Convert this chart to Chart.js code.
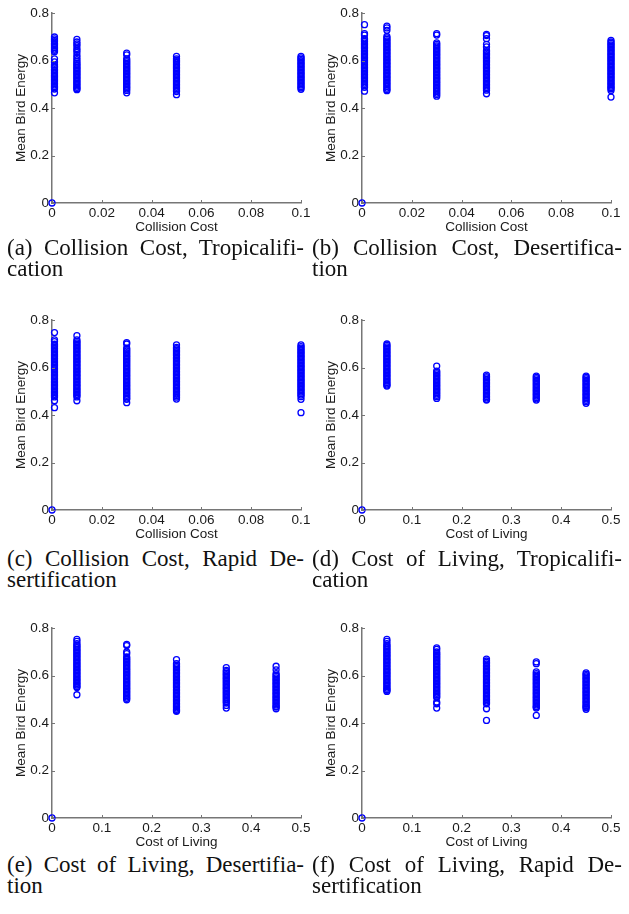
<!DOCTYPE html>
<html lang="en">
  <head>
    <meta charset="UTF-8">
    <script src="https://cdn.jsdelivr.net/npm/chart.js"></script>
    <style>
      body {
      margin: 0;
      width: 629px;
      height: 914px;
      background: #fff;
      position: relative;
      overflow: hidden;
      }
      .panel {
      position: absolute;
      width: 319px;
      height: 237px;
      }
      .caption {
      position: absolute;
      font-family: "Liberation Serif", "Times New Roman", serif;
      font-size: 23px;
      line-height: 21px;
      color: #111;
      white-space: nowrap;
      }
      .caption .first {
      text-align: justify;
      text-align-last: justify;
      }
    </style>
  </head>
  <body>
    <div class="panel" style="left:0px;top:0px"><canvas id="chartA"></canvas></div>
    <div class="panel" style="left:310px;top:0px"><canvas id="chartB"></canvas></div>
    <div class="panel" style="left:0px;top:307px"><canvas id="chartC"></canvas></div>
    <div class="panel" style="left:310px;top:307px"><canvas id="chartD"></canvas></div>
    <div class="panel" style="left:0px;top:615px"><canvas id="chartE"></canvas></div>
    <div class="panel" style="left:310px;top:615px"><canvas id="chartF"></canvas></div>

    <div class="caption" style="left:7px;top:237px;width:297px">
      <div class="first">(a) Collision Cost, Tropicalifi-</div><div>cation</div>
    </div>
    <div class="caption" style="left:312px;top:237px;width:310px">
      <div class="first">(b) Collision Cost, Desertifica-</div><div>tion</div>
    </div>
    <div class="caption" style="left:7px;top:548px;width:297px">
      <div class="first">(c) Collision Cost, Rapid De-</div><div>sertification</div>
    </div>
    <div class="caption" style="left:312px;top:548px;width:310px">
      <div class="first">(d) Cost of Living, Tropicalifi-</div><div>cation</div>
    </div>
    <div class="caption" style="left:7px;top:854px;width:297px">
      <div class="first">(e) Cost of Living, Desertifia-</div><div>tion</div>
    </div>
    <div class="caption" style="left:312px;top:854px;width:310px">
      <div class="first">(f) Cost of Living, Rapid De-</div><div>sertification</div>
    </div>

    <script>
      // x positions of the runs
      const collisionCosts = [0.001, 0.01, 0.03, 0.05, 0.1];
      const livingCosts = [0.05, 0.15, 0.25, 0.35, 0.45];
      const collisionTicks = [0, 0.02, 0.04, 0.06, 0.08, 0.1];
      const livingTicks = [0, 0.1, 0.2, 0.3, 0.4, 0.5];
      const energyTicks = [0, 0.2, 0.4, 0.6, 0.8];
      const originPoint = [0, 0]; // every panel has one run at (0,0)

      // mean bird energy, one list per x position
      const collisionTropical = [
        [0.699, 0.691, 0.685, 0.679, 0.672, 0.667, 0.661, 0.654, 0.648, 0.643, 0.637, 0.607, 0.594, 0.581, 0.575, 0.569, 0.562, 0.557, 0.551, 0.544, 0.538, 0.533, 0.527, 0.521, 0.515, 0.509, 0.503, 0.497, 0.491, 0.486, 0.480, 0.464],
        [0.689, 0.678, 0.670, 0.662, 0.651, 0.643, 0.634, 0.622, 0.613, 0.604, 0.596, 0.589, 0.583, 0.577, 0.571, 0.565, 0.559, 0.553, 0.547, 0.541, 0.535, 0.529, 0.523, 0.517, 0.511, 0.505, 0.499, 0.493, 0.487, 0.481, 0.477],
        [0.631, 0.624, 0.607, 0.600, 0.594, 0.588, 0.582, 0.576, 0.570, 0.564, 0.558, 0.552, 0.546, 0.540, 0.534, 0.528, 0.522, 0.516, 0.510, 0.504, 0.498, 0.492, 0.486, 0.480, 0.474, 0.464],
        [0.617, 0.607, 0.601, 0.595, 0.589, 0.583, 0.577, 0.571, 0.565, 0.559, 0.553, 0.547, 0.541, 0.535, 0.529, 0.523, 0.517, 0.511, 0.505, 0.499, 0.493, 0.487, 0.481, 0.475, 0.469, 0.456],
        [0.617, 0.611, 0.605, 0.599, 0.593, 0.587, 0.581, 0.575, 0.569, 0.563, 0.557, 0.551, 0.545, 0.539, 0.533, 0.527, 0.521, 0.515, 0.509, 0.503, 0.497, 0.491, 0.485, 0.479]
      ];
      const collisionDesert = [
        [0.751, 0.713, 0.707, 0.692, 0.686, 0.680, 0.673, 0.667, 0.661, 0.655, 0.649, 0.643, 0.637, 0.631, 0.625, 0.619, 0.613, 0.607, 0.601, 0.595, 0.589, 0.583, 0.577, 0.571, 0.565, 0.559, 0.553, 0.547, 0.541, 0.535, 0.529, 0.523, 0.517, 0.511, 0.505, 0.499, 0.493, 0.487, 0.471],
        [0.745, 0.737, 0.727, 0.701, 0.695, 0.689, 0.683, 0.677, 0.671, 0.665, 0.659, 0.653, 0.647, 0.641, 0.635, 0.629, 0.623, 0.617, 0.611, 0.605, 0.599, 0.593, 0.587, 0.581, 0.575, 0.569, 0.563, 0.557, 0.551, 0.545, 0.539, 0.533, 0.527, 0.521, 0.515, 0.509, 0.503, 0.497, 0.491, 0.484, 0.478, 0.473],
        [0.713, 0.707, 0.674, 0.668, 0.662, 0.656, 0.650, 0.644, 0.638, 0.632, 0.626, 0.620, 0.614, 0.608, 0.602, 0.596, 0.590, 0.584, 0.578, 0.572, 0.566, 0.560, 0.554, 0.548, 0.542, 0.536, 0.530, 0.524, 0.518, 0.512, 0.506, 0.500, 0.494, 0.488, 0.482, 0.476, 0.470, 0.463, 0.457, 0.450],
        [0.710, 0.705, 0.692, 0.668, 0.657, 0.643, 0.637, 0.631, 0.625, 0.619, 0.613, 0.607, 0.601, 0.595, 0.589, 0.583, 0.577, 0.571, 0.565, 0.559, 0.553, 0.547, 0.541, 0.535, 0.529, 0.523, 0.517, 0.511, 0.505, 0.499, 0.493, 0.487, 0.481, 0.475, 0.460],
        [0.685, 0.678, 0.672, 0.666, 0.660, 0.654, 0.648, 0.642, 0.636, 0.630, 0.624, 0.618, 0.612, 0.606, 0.600, 0.594, 0.588, 0.582, 0.576, 0.570, 0.564, 0.558, 0.552, 0.546, 0.540, 0.534, 0.528, 0.522, 0.516, 0.510, 0.504, 0.498, 0.492, 0.486, 0.481, 0.474, 0.446]
      ];
      const collisionRapid = [
        [0.747, 0.716, 0.709, 0.698, 0.692, 0.686, 0.680, 0.674, 0.668, 0.662, 0.656, 0.650, 0.644, 0.638, 0.632, 0.626, 0.620, 0.614, 0.608, 0.602, 0.596, 0.590, 0.584, 0.578, 0.572, 0.566, 0.560, 0.554, 0.548, 0.542, 0.536, 0.530, 0.524, 0.518, 0.512, 0.506, 0.500, 0.494, 0.488, 0.482, 0.476, 0.460, 0.431],
        [0.734, 0.716, 0.710, 0.704, 0.698, 0.692, 0.686, 0.680, 0.674, 0.668, 0.662, 0.656, 0.650, 0.644, 0.638, 0.632, 0.626, 0.620, 0.614, 0.608, 0.602, 0.596, 0.590, 0.584, 0.578, 0.572, 0.566, 0.560, 0.554, 0.548, 0.542, 0.536, 0.530, 0.524, 0.518, 0.512, 0.506, 0.500, 0.494, 0.488, 0.482, 0.476, 0.460],
        [0.705, 0.699, 0.681, 0.675, 0.669, 0.663, 0.657, 0.651, 0.645, 0.639, 0.633, 0.627, 0.621, 0.615, 0.609, 0.603, 0.597, 0.591, 0.585, 0.579, 0.573, 0.567, 0.561, 0.555, 0.549, 0.543, 0.537, 0.531, 0.525, 0.519, 0.513, 0.507, 0.501, 0.495, 0.489, 0.483, 0.477, 0.471, 0.466, 0.452],
        [0.695, 0.685, 0.679, 0.673, 0.667, 0.661, 0.655, 0.649, 0.643, 0.637, 0.631, 0.625, 0.619, 0.613, 0.607, 0.601, 0.595, 0.589, 0.583, 0.577, 0.571, 0.565, 0.559, 0.553, 0.547, 0.541, 0.535, 0.529, 0.523, 0.517, 0.511, 0.505, 0.499, 0.493, 0.487, 0.481, 0.475, 0.467],
        [0.695, 0.688, 0.682, 0.676, 0.670, 0.664, 0.658, 0.652, 0.646, 0.640, 0.634, 0.628, 0.622, 0.616, 0.610, 0.604, 0.598, 0.592, 0.586, 0.580, 0.574, 0.568, 0.562, 0.556, 0.550, 0.544, 0.538, 0.532, 0.526, 0.520, 0.514, 0.508, 0.502, 0.496, 0.490, 0.484, 0.477, 0.466, 0.410]
      ];
      const livingTropical = [
        [0.699, 0.693, 0.687, 0.681, 0.675, 0.669, 0.663, 0.657, 0.651, 0.645, 0.639, 0.633, 0.627, 0.621, 0.615, 0.609, 0.603, 0.597, 0.591, 0.585, 0.579, 0.573, 0.567, 0.561, 0.555, 0.549, 0.543, 0.537, 0.531, 0.526, 0.522],
        [0.606, 0.585, 0.579, 0.573, 0.567, 0.561, 0.555, 0.549, 0.543, 0.537, 0.531, 0.525, 0.519, 0.513, 0.507, 0.501, 0.495, 0.489, 0.483, 0.477, 0.470],
        [0.568, 0.562, 0.556, 0.550, 0.544, 0.538, 0.532, 0.526, 0.520, 0.514, 0.508, 0.502, 0.496, 0.490, 0.484, 0.478, 0.472, 0.466, 0.463],
        [0.564, 0.558, 0.552, 0.546, 0.540, 0.534, 0.528, 0.522, 0.516, 0.510, 0.504, 0.498, 0.492, 0.486, 0.480, 0.474, 0.468, 0.463],
        [0.564, 0.558, 0.552, 0.546, 0.540, 0.534, 0.528, 0.522, 0.516, 0.510, 0.504, 0.498, 0.492, 0.486, 0.480, 0.474, 0.468, 0.462, 0.456, 0.449]
      ];
      const livingDesert = [
        [0.752, 0.744, 0.734, 0.728, 0.722, 0.716, 0.710, 0.704, 0.698, 0.692, 0.686, 0.680, 0.674, 0.668, 0.662, 0.656, 0.650, 0.644, 0.638, 0.632, 0.626, 0.620, 0.614, 0.608, 0.602, 0.596, 0.590, 0.584, 0.578, 0.572, 0.566, 0.560, 0.554, 0.549, 0.519],
        [0.731, 0.726, 0.699, 0.692, 0.678, 0.672, 0.666, 0.660, 0.654, 0.648, 0.642, 0.636, 0.630, 0.624, 0.618, 0.612, 0.606, 0.600, 0.594, 0.588, 0.582, 0.576, 0.570, 0.564, 0.558, 0.552, 0.546, 0.540, 0.534, 0.528, 0.522, 0.516, 0.510, 0.504, 0.498],
        [0.667, 0.650, 0.644, 0.638, 0.632, 0.626, 0.620, 0.614, 0.608, 0.602, 0.596, 0.590, 0.584, 0.578, 0.572, 0.566, 0.560, 0.554, 0.548, 0.542, 0.536, 0.530, 0.524, 0.518, 0.512, 0.506, 0.500, 0.494, 0.488, 0.482, 0.476, 0.470, 0.464, 0.458, 0.453, 0.449],
        [0.633, 0.622, 0.616, 0.610, 0.604, 0.598, 0.592, 0.586, 0.580, 0.574, 0.568, 0.562, 0.556, 0.550, 0.544, 0.538, 0.532, 0.526, 0.520, 0.514, 0.508, 0.502, 0.496, 0.490, 0.484, 0.474, 0.463],
        [0.639, 0.624, 0.608, 0.602, 0.596, 0.590, 0.584, 0.578, 0.572, 0.566, 0.560, 0.554, 0.548, 0.542, 0.536, 0.530, 0.524, 0.518, 0.512, 0.506, 0.500, 0.494, 0.488, 0.482, 0.476, 0.470, 0.467, 0.460]
      ];
      const livingRapid = [
        [0.752, 0.744, 0.734, 0.727, 0.721, 0.715, 0.709, 0.703, 0.697, 0.691, 0.685, 0.679, 0.673, 0.667, 0.661, 0.655, 0.649, 0.643, 0.637, 0.631, 0.625, 0.619, 0.613, 0.607, 0.601, 0.595, 0.589, 0.583, 0.577, 0.571, 0.565, 0.559, 0.553, 0.547, 0.541, 0.538, 0.533],
        [0.716, 0.710, 0.699, 0.693, 0.687, 0.681, 0.675, 0.669, 0.663, 0.657, 0.651, 0.645, 0.639, 0.633, 0.627, 0.621, 0.615, 0.609, 0.603, 0.597, 0.591, 0.585, 0.579, 0.573, 0.567, 0.561, 0.555, 0.549, 0.543, 0.537, 0.531, 0.525, 0.519, 0.513, 0.507, 0.488, 0.481, 0.463],
        [0.669, 0.661, 0.655, 0.649, 0.643, 0.637, 0.631, 0.625, 0.619, 0.613, 0.607, 0.601, 0.595, 0.589, 0.583, 0.577, 0.571, 0.565, 0.559, 0.553, 0.547, 0.541, 0.535, 0.529, 0.523, 0.517, 0.511, 0.505, 0.499, 0.493, 0.487, 0.481, 0.460, 0.411],
        [0.657, 0.650, 0.615, 0.608, 0.602, 0.596, 0.590, 0.584, 0.578, 0.572, 0.566, 0.560, 0.554, 0.548, 0.542, 0.536, 0.530, 0.524, 0.518, 0.512, 0.506, 0.500, 0.494, 0.488, 0.482, 0.476, 0.470, 0.467, 0.463, 0.432],
        [0.611, 0.605, 0.599, 0.593, 0.587, 0.581, 0.575, 0.569, 0.563, 0.557, 0.551, 0.545, 0.539, 0.533, 0.527, 0.521, 0.515, 0.509, 0.503, 0.497, 0.491, 0.485, 0.479, 0.473, 0.468, 0.465, 0.458]
      ];

      const axisColor = '#767676';
      const textColor = '#1a1a1a';
      const sans = '"Liberation Sans", Arial, sans-serif';

      // MATLAB-style ticks pointing into the plot
      const inwardTicks = {
        id: 'inwardTicks',
        afterDraw(chart) {
          const { ctx, chartArea: area, scales: { x, y } } = chart;
          ctx.save();
          ctx.strokeStyle = axisColor;
          ctx.lineWidth = 1;
          ctx.beginPath();
          x.ticks.forEach(t => {
            const px = Math.round(x.getPixelForValue(t.value)) + 0.5;
            ctx.moveTo(px, area.bottom);
            ctx.lineTo(px, area.bottom - 3);
          });
          y.ticks.forEach(t => {
            const py = Math.round(y.getPixelForValue(t.value)) + 0.5;
            ctx.moveTo(area.left, py);
            ctx.lineTo(area.left + 3, py);
          });
          ctx.stroke();
          ctx.restore();
        }
      };

      function toPoints(xs, columns) {
        const pts = [{ x: originPoint[0], y: originPoint[1] }];
        columns.forEach((col, i) => col.forEach(v => pts.push({ x: xs[i], y: v })));
        return pts;
      }

      function makePanel(id, xs, columns, xTicks, xTitle) {
        new Chart(document.getElementById(id), {
          type: 'scatter',
          data: {
            datasets: [{
              data: toPoints(xs, columns),
              borderColor: '#0000ff',
              backgroundColor: 'rgba(0,0,0,0)',
              pointRadius: 3,
              pointHoverRadius: 3,
              pointBorderWidth: 1.3,
              clip: false
            }]
          },
          options: {
            responsive: true,
            maintainAspectRatio: false,
            animation: false,
            events: [],
            layout: { padding: { top: 13, right: 18, bottom: 0, left: 0 } },
            plugins: { legend: { display: false }, tooltip: { enabled: false } },
            scales: {
              x: {
                type: 'linear',
                min: xTicks[0],
                max: xTicks[xTicks.length - 1],
                afterBuildTicks: s => { s.ticks = xTicks.map(v => ({ value: v })); },
                afterFit: s => { s.height = 34; },
                grid: { display: false, drawTicks: false },
                border: { display: true, color: axisColor, width: 1.5 },
                ticks: {
                  padding: 2,
                  color: textColor,
                  font: { family: sans, size: 13.5 },
                  maxRotation: 0,
                  callback: v => String(v)
                },
                title: {
                  display: true,
                  text: xTitle,
                  color: textColor,
                  font: { family: sans, size: 13.5, lineHeight: 1.2 },
                  padding: { top: 0, bottom: 2 }
                }
              },
              y: {
                type: 'linear',
                min: energyTicks[0],
                max: energyTicks[energyTicks.length - 1],
                afterBuildTicks: s => { s.ticks = energyTicks.map(v => ({ value: v })); },
                afterFit: s => { s.width = 52; },
                grid: { display: false, drawTicks: false },
                border: { display: true, color: axisColor, width: 1.5 },
                ticks: {
                  padding: 3,
                  color: textColor,
                  font: { family: sans, size: 13.5 },
                  callback: v => String(v)
                },
                title: {
                  display: true,
                  text: 'Mean Bird Energy',
                  color: textColor,
                  font: { family: sans, size: 13.5, lineHeight: 1.2 },
                  padding: { top: 13.5, bottom: 0 }
                }
              }
            }
          },
          plugins: [inwardTicks]
        });
      }

      makePanel('chartA', collisionCosts, collisionTropical, collisionTicks, 'Collision Cost');
      makePanel('chartB', collisionCosts, collisionDesert, collisionTicks, 'Collision Cost');
      makePanel('chartC', collisionCosts, collisionRapid, collisionTicks, 'Collision Cost');
      makePanel('chartD', livingCosts, livingTropical, livingTicks, 'Cost of Living');
      makePanel('chartE', livingCosts, livingDesert, livingTicks, 'Cost of Living');
      makePanel('chartF', livingCosts, livingRapid, livingTicks, 'Cost of Living');
    </script>
  </body>
</html>
